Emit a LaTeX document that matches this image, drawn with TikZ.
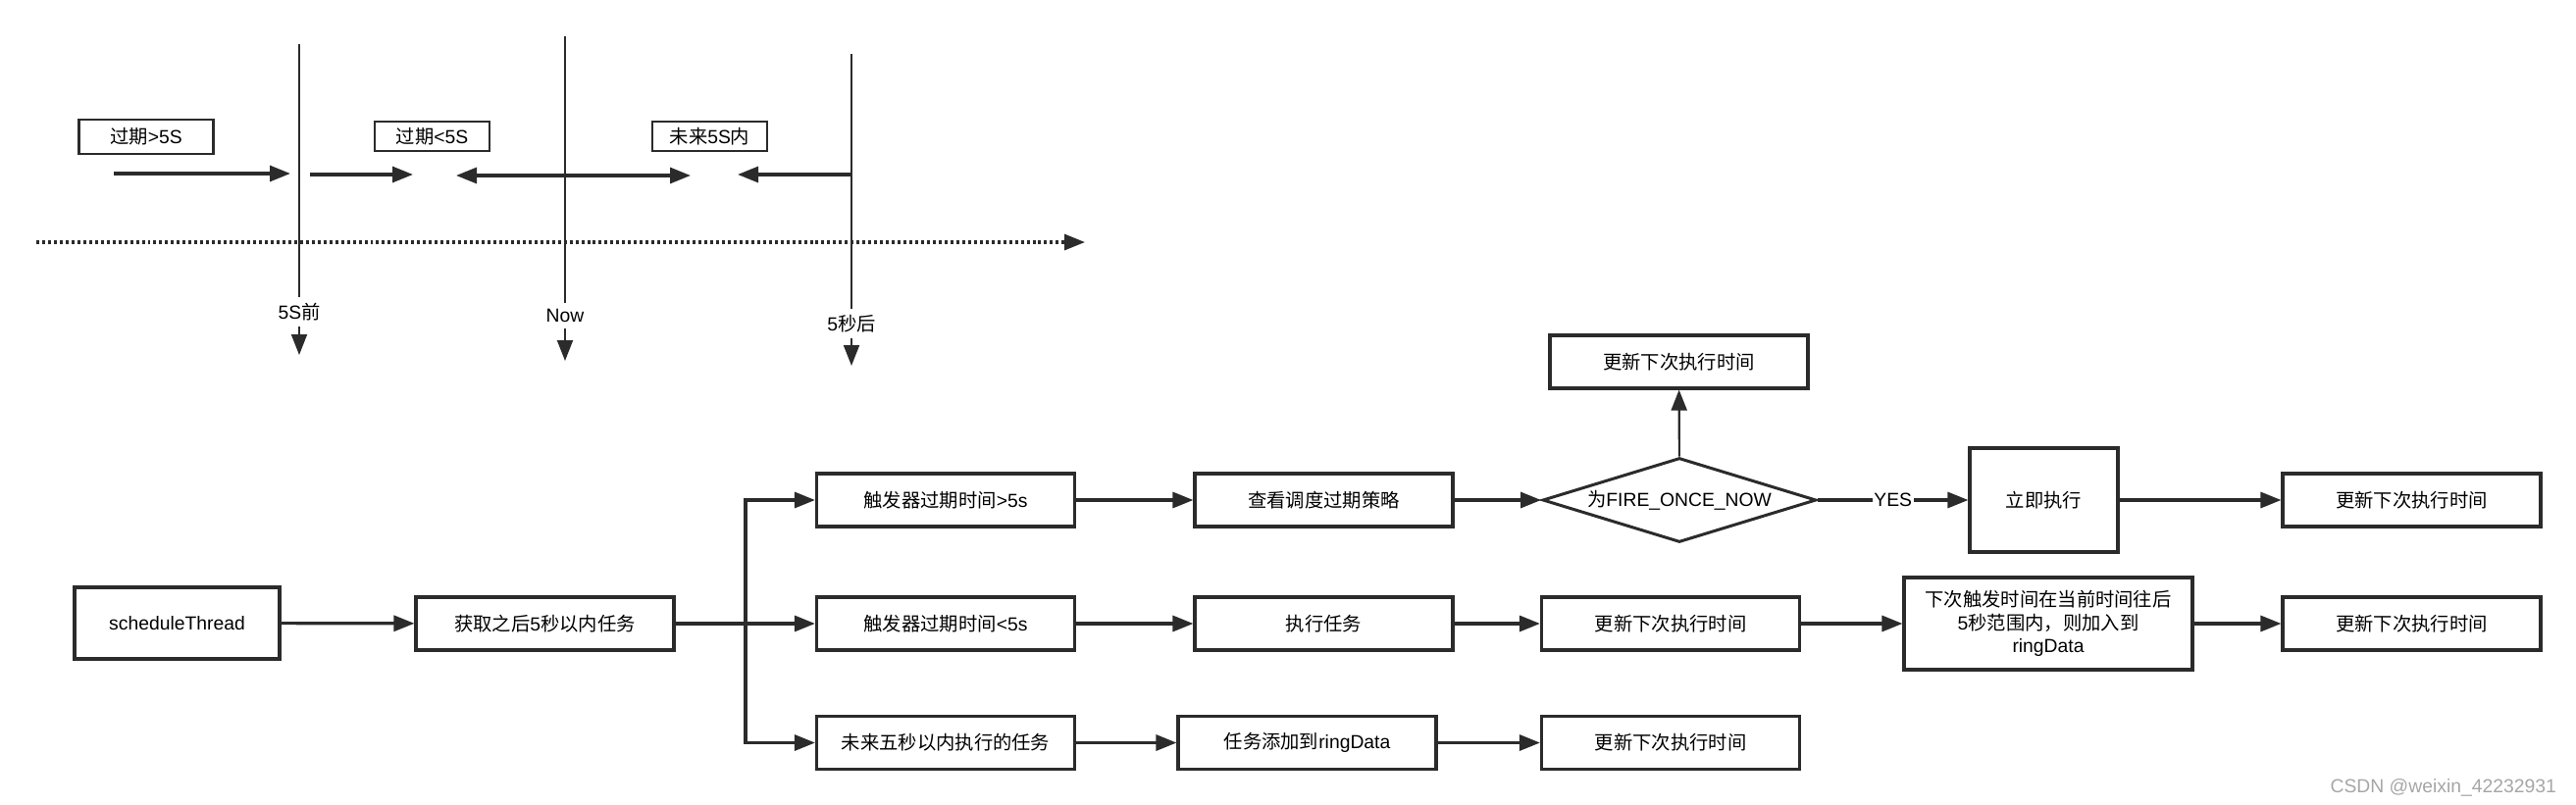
\documentclass[tikz,border=0pt]{standalone}
\usepackage{fontspec}
\setmainfont{Liberation Sans}
\newfontfamily\cjk{Noto Sans CJK SC}
\usetikzlibrary{arrows.meta,shapes.geometric,positioning}
\definecolor{ink}{HTML}{2B2B2B}

\begin{document}
\begin{tikzpicture}[x=0.02cm,y=-0.02cm,
	font=\fontsize{11}{13.5}\selectfont,
	>={Triangle[length=0.42cm,width=0.32cm]},
	box/.style={draw=ink,line width=1.8pt,inner sep=0pt,minimum width=5.26cm,minimum height=1.08cm,align=center},
	tag/.style={draw=ink,line width=1.6pt,inner sep=0pt,minimum height=0.6cm},
	cond/.style={diamond,draw=ink,line width=1.7pt,inner sep=0pt,aspect=3.2,minimum width=5.58cm,minimum height=1.72cm},
	arr/.style={->,draw=ink,line width=1.8pt},
	axe/.style={draw=ink,line width=1.1pt}]
	          %\draw[help lines] (0,0) grid[step=100] (2626,821);
	          \useasboundingbox (0,0) rectangle (2626,821);
	          
	          %timeline
	          \node[tag,minimum width=2.74cm,minimum height=0.7cm] (late) at (149,139.5) {{\cjk 过期}>5S};
	          \node[tag,minimum width=2.34cm] (near) at (440.5,139) {{\cjk 过期}<5S};
	          \node[tag,minimum width=2.34cm] (soon) at (723.5,139) {{\cjk 未来}5S{\cjk 内}};
	          
	          \coordinate (t1) at (305,45);
	          \coordinate (b1) at (305,362);
	          \node (l1) at (305,318) {5S{\cjk 前}};
	          \coordinate (t2) at (576,37);
	          \coordinate (b2) at (576,368);
	          \node (l2) at (576,322) {Now};
	          \coordinate (t3) at (868,55);
	          \coordinate (b3) at (868,373);
	          \node (l3) at (868,330) {5{\cjk 秒后}};
	          \draw[axe] (t1) -- (l1);
	          \draw[axe,->] (l1) -- (b1);
	          \draw[axe] (t2) -- (l2);
	          \draw[axe,->] (l2) -- (b2);
	          \draw[axe] (t3) -- (l3);
	          \draw[axe,->] (l3) -- (b3);
	          
	          \coordinate (d0) at (37,247);
	          \coordinate (d1) at (1106,247);
	          \draw[->,ink,line width=1.8pt,dash pattern=on 1.7pt off 1.7pt] (d0) -- (d1);
	          
	          \coordinate (p1) at (116,177);
	          \coordinate (p2) at (296,177);
	          \coordinate (p3) at (316,178);
	          \coordinate (p4) at (421,178);
	          \coordinate (p5) at (465,179);
	          \coordinate (p6) at (704,179);
	          \coordinate (p7) at (752,178);
	          \draw[arr] (p1) -- (p2);
	          \draw[arr] (p3) -- (p4);
	          \draw[arr] (t2|-p5) -- (p5);
	          \draw[arr] (t2|-p6) -- (p6);
	          \draw[arr] (t3|-p7) -- (p7);
	          
	          %flow
	          \node[box,minimum width=4.18cm,minimum height=1.46cm] (sched) at (180.5,635.5) {scheduleThread};
	          \node[box] (fetch) at (555.5,636) {{\cjk 获取之后}5{\cjk 秒以内任务}};
	          \coordinate (split) at (760,636);
	          \node[box] (over) at (964,510) {{\cjk 触发器过期时间}>5s};
	          \node[box] (under) at (964,636) {{\cjk 触发器过期时间}<5s};
	          \node[box] (ahead) at (964,757.5) {\cjk 未来五秒以内执行的任务};
	          \node[box] (policy) at (1349.5,510) {\cjk 查看调度过期策略};
	          \node[box] (run) at (1349.5,636) {\cjk 执行任务};
	          \node[box] (ring) at (1332.5,757.5) {{\cjk 任务添加到}ringData};
	          \node[cond] (fire) at (1712,510) {{\cjk 为}FIRE\_ONCE\_NOW};
	          \node[box] (updA) at (1711.5,369) {\cjk 更新下次执行时间};
	          \node[box,minimum width=3.02cm,minimum height=2.12cm] (now) at (2083.5,510) {\cjk 立即执行};
	          \node[box] (updB) at (2458.5,510) {\cjk 更新下次执行时间};
	          \node[box] (updC) at (1703,636) {\cjk 更新下次执行时间};
	          \node[box,minimum width=5.88cm,minimum height=1.88cm] (inring) at (2088,636) {{\cjk 下次触发时间在当前时间往后}\\5{\cjk 秒范围内，则加入到}\\ringData};
	          \node[box] (updD) at (2458.5,636) {\cjk 更新下次执行时间};
	          \node[box] (updE) at (1703,757.5) {\cjk 更新下次执行时间};
	          
	          \draw[arr] (sched) -- (fetch);
	          \draw[arr] (fetch) -- (under);
	          \draw[arr] (split) |- (over);
	          \draw[arr] (split) |- (ahead);
	          \draw[arr] (over) -- (policy);
	          \draw[arr] (policy) -- (fire);
	          \draw[arr,line width=1.2pt] (fire) -- (updA);
	          \draw[arr] (fire) -- node[fill=white,inner sep=1pt] (yes) {YES} (now);
	          \draw[arr] (now) -- (updB);
	          \draw[arr] (under) -- (run);
	          \draw[arr] (run) -- (updC);
	          \draw[arr] (updC) -- (inring);
	          \draw[arr] (inring) -- (updD);
	          \draw[arr] (ahead) -- (ring);
	          \draw[arr] (ring) -- (updE);
	          
	          \node[text=gray!70,anchor=east] (mark) at (2612,803) {CSDN @weixin\_42232931};
\end{tikzpicture}
\end{document}
